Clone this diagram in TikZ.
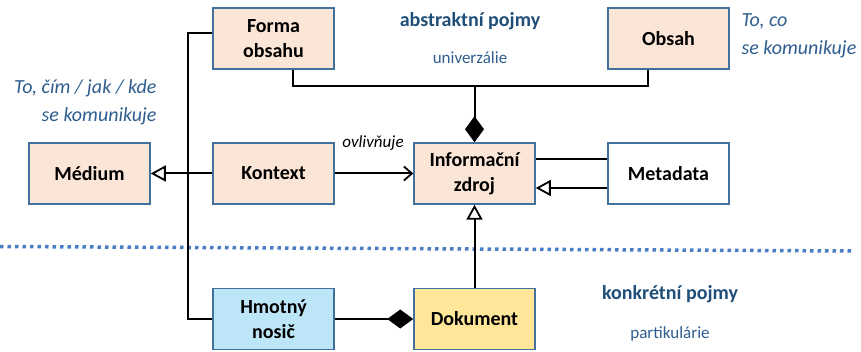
\documentclass[tikz,border=0pt]{standalone}
\usepackage{fontspec}
\setmainfont{Carlito}
\usetikzlibrary{arrows.meta}
\definecolor{peach}{HTML}{FBE5D6}
\definecolor{skyfill}{HTML}{BDE5F8}
\definecolor{goldfill}{HTML}{FFE699}
\definecolor{boxedge}{HTML}{41719C}
\definecolor{titleblue}{HTML}{1F4E79}
\definecolor{noteblue}{HTML}{2E5D8E}
\definecolor{dotblue}{HTML}{4A7EC4}
\tikzset{
  box/.style={draw=boxedge, line width=1.5pt, fill=peach, minimum width=121pt,
    minimum height=61pt, align=center, inner sep=0pt,
    font=\bfseries\fontsize{20}{25}\selectfont},
  link/.style={line width=2pt, black},
  gen/.style={link, -{Triangle[open, length=15pt, width=16pt, line width=1.8pt]}},
  agg/.style={link, -{Diamond[length=26pt, width=19pt]}},
  dep/.style={link, -{Straight Barb[length=8pt, width=14pt, line width=1.8pt]}},
  heading/.style={text=titleblue, font=\bfseries\fontsize{20}{24}\selectfont, anchor=base},
  subheading/.style={text=noteblue, font=\fontsize{17}{20}\selectfont, anchor=base},
  note/.style={text=noteblue, font=\itshape\fontsize{20}{28}\selectfont, anchor=base},
}
\begin{document}
\begin{tikzpicture}[x=1pt, y=-1pt]
\useasboundingbox (0,0) rectangle (861,352);

% boxes
\node[box] (forma) at (273.5,38.5) {Forma\\obsahu};
\node[box] (obsah) at (668.5,38.5) {Obsah};
\node[box] (medium) at (89.5,173.5) {Médium};
\node[box] (kontext) at (273.5,173.5) {Kontext};
\node[box] (info) at (474.5,173.5) {Informační\\zdroj};
\node[box, fill=white] (meta) at (668.5,173.5) {Metadata};
\node[box, fill=skyfill] (nosic) at (273.5,319) {Hmotný\\nosič};
\node[box, fill=goldfill] (dokument) at (474.5,319) {Dokument};

% divider between abstract and concrete notions
\coordinate (divL) at (0,246.5);
\coordinate (divR) at (852,251);
\draw[dotblue, line width=3.5pt, dash pattern=on 3.5pt off 4pt] (divL) -- (divR);

% composition of the information resource
\coordinate (join) at (474.5,86);
\draw[link] ([xshift=19.5pt]forma.south) |- (join) -| ([xshift=-20.5pt]obsah.south);
\draw[agg] (join) -- (info.north);

% form of content and physical carrier
\draw[link] ([yshift=5.5pt]forma.west) -- ++(-24.5,0) |- (nosic.west);

% generalisations and dependency
\draw[gen] (kontext.west) -- (medium.east);
\draw[dep] (kontext.east) -- (info.west);
\node[anchor=base, font=\itshape\fontsize{17}{20}\selectfont] (vliv) at (373,148) {ovlivňuje};
\draw[link] ([yshift=14.5pt]info.east) -- ([yshift=14.5pt]meta.west);
\draw[gen] ([yshift=-14.5pt]meta.west) -- ([yshift=-14.5pt]info.east);
\draw[gen] (dokument.north) -- (info.south);
\draw[agg] (nosic.east) -- (dokument.west);

% labels
\node[heading] (abs) at (470,27) {abstraktní pojmy};
\node[subheading] (univ) at (470,64) {univerzálie};
\node[heading] (konk) at (670,300) {konkrétní pojmy};
\node[subheading] (part) at (670,338) {partikulárie};
\node[note, anchor=base west] (co1) at (738,27) {To, co};
\node[note, anchor=base west] (co2) at (738,55) {se komunikuje};
\node[note, anchor=base east] (cim1) at (160,94) {To, čím / jak / kde};
\node[note, anchor=base east] (cim2) at (160,122) {se komunikuje};
\end{tikzpicture}
\end{document}
